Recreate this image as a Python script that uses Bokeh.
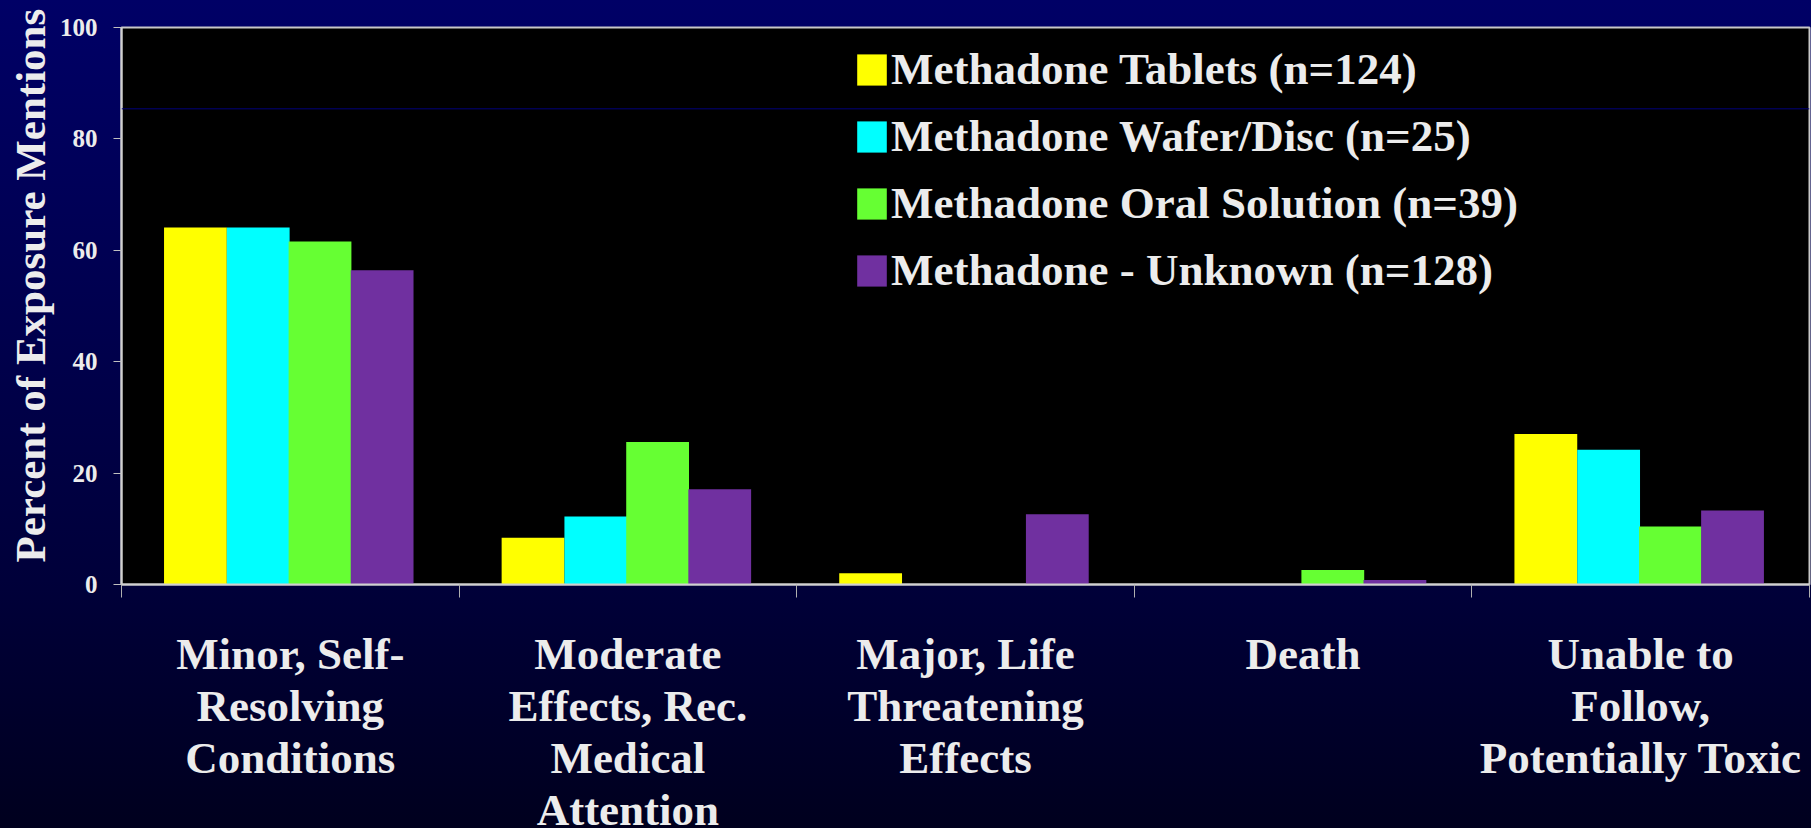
import numpy as np
from bokeh.plotting import figure
from bokeh.models import (ColumnDataSource, Range1d, FixedTicker, Legend, LegendItem,
                          Span, Title, GlobalInlineStyleSheet)
from bokeh.transform import dodge
from bokeh.embed import file_html
from bokeh.resources import INLINE

# ---------------- data ----------------
categories = [
    "Minor, Self-\nResolving\nConditions",
    "Moderate\nEffects, Rec.\nMedical\nAttention",
    "Major, Life\nThreatening\nEffects",
    "Death",
    "Unable to\nFollow,\nPotentially Toxic",
]
series_names = [
    "Methadone Tablets (n=124)",
    "Methadone Wafer/Disc (n=25)",
    "Methadone Oral Solution (n=39)",
    "Methadone - Unknown (n=128)",
]
tablets = [64.1, 8.4, 2.0, 0.0, 27.0]
wafer = [64.1, 12.2, 0.0, 0.0, 24.2]
oral = [61.6, 25.6, 0.0, 2.6, 10.4]
unknown = [56.4, 17.1, 12.6, 0.8, 13.3]
y_ticks = [0, 20, 40, 60, 80, 100]
y_title = "Percent of Exposure Mentions"

# ---------------- styles ----------------
colors = ["#FFFF00", "#00FFFF", "#66FF33", "#7030A0"]
TXT = "#ECECEC"
FONT = "Liberation Serif"
bar_w = 0.186
offsets = [-0.281, -0.095, 0.088, 0.272]

n = len(categories)
centers = [i + 0.5 for i in range(n)]
boundaries = list(range(n + 1))
source = ColumnDataSource(dict(x=centers, tablets=tablets, wafer=wafer,
                               oral=oral, unknown=unknown))
cols = ["tablets", "wafer", "oral", "unknown"]

p = figure(width=1811, height=880,
           x_range=Range1d(0, n), y_range=Range1d(0, 100),
           output_backend="svg", toolbar_location=None,
           min_border_left=121, min_border_right=2,
           min_border_top=27, min_border_bottom=296)

p.stylesheets = [GlobalInlineStyleSheet(css=
    "html, body { overflow: hidden; }"
    " html { background: linear-gradient(to bottom, #000066 0px, #00003a 580px, #00001e 828px) no-repeat; background-color: #00001e; }"
    " body { background: transparent; }")]

p.border_fill_alpha = 0
p.background_fill_color = "#000000"
p.outline_line_color = "#C8C8C8"
p.outline_line_width = 2
p.xgrid.visible = False
p.ygrid.visible = False

renderers = []
for c, off, col in zip(cols, offsets, colors):
    r = p.vbar(x=dodge("x", off, range=p.x_range), top=c, width=bar_w, bottom=0,
               source=source, fill_color=col, line_color=None)
    renderers.append(r)

p.add_layout(Span(location=85.4, dimension="width", line_color="#00007a", line_width=1))

# y axis
ya = p.yaxis[0]
ya.ticker = FixedTicker(ticks=y_ticks)
ya.major_label_text_font = FONT
ya.major_label_text_font_style = "bold"
ya.major_label_text_font_size = "25px"
ya.major_label_text_color = TXT
ya.major_label_standoff = 16
ya.major_tick_out = 8
ya.major_tick_in = 0
ya.major_tick_line_color = "#C0C0C0"
ya.minor_tick_line_color = None
ya.axis_line_color = "#D0D0D0"
ya.axis_line_width = 2

# y title (left side, shifted along the axis)
p.add_layout(Title(text=y_title, align="left", offset=22, standoff=6,
                   text_font=FONT, text_font_style="bold", text_font_size="43px",
                   text_color=TXT), "left")

# x axis : names at category centres, ticks at category boundaries
xa = p.xaxis[0]
xa.ticker = FixedTicker(ticks=centers, minor_ticks=boundaries)
xa.major_label_overrides = {c: lab for c, lab in zip(centers, categories)}
xa.major_label_text_font = FONT
xa.major_label_text_font_style = "bold"
xa.major_label_text_font_size = "45px"
xa.major_label_text_color = TXT
xa.major_label_text_line_height = 1.045
xa.major_label_standoff = 31
xa.major_tick_out = 0
xa.major_tick_in = 0
xa.minor_tick_out = 13
xa.minor_tick_in = 0
xa.minor_tick_line_color = "#B0B0B0"
xa.axis_line_color = "#D0D0D0"
xa.axis_line_width = 2

legend = Legend(items=[LegendItem(label=s, renderers=[r]) for s, r in zip(series_names, renderers)],
                location=(732, 288), orientation="vertical",
                glyph_width=37, glyph_height=39, label_standoff=1, spacing=15,
                padding=0, margin=0, border_line_color=None, background_fill_alpha=0,
                label_text_font=FONT, label_text_font_style="bold",
                label_text_font_size="45px", label_text_color=TXT, label_height=48)
p.add_layout(legend)

open("out.html", "w").write(file_html(p, INLINE))
